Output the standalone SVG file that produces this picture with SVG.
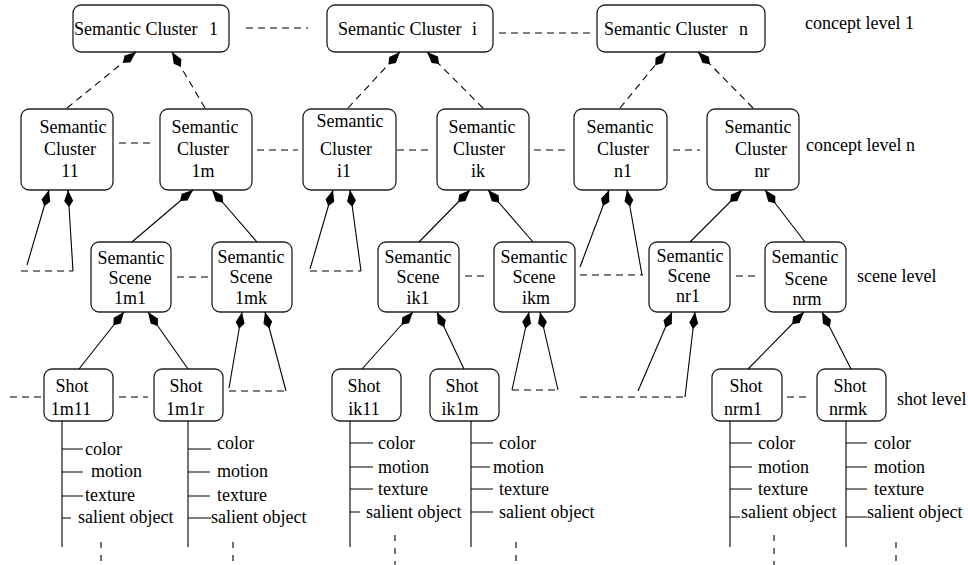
<svg xmlns="http://www.w3.org/2000/svg" width="968" height="565" viewBox="0 0 968 565">
<style>
  .box { fill: #fff; stroke: #222; stroke-width: 1.3; }
  text { font-family: "Liberation Serif", "Times New Roman", serif; font-size: 18px; fill: #000; }
  .c { text-anchor: middle; }
  .ln { stroke: #000; stroke-width: 1.1; fill: none; }
  .dash { stroke: #000; stroke-width: 1.1; fill: none; stroke-dasharray: 7 5; }
  .vd { stroke: #000; stroke-width: 1.1; fill: none; stroke-dasharray: 6 7; }
</style>
<defs>
  <marker id="ah" viewBox="-18 -5 19 10" refX="0" refY="0" markerWidth="19" markerHeight="10" markerUnits="userSpaceOnUse" orient="auto">
    <path d="M0,0 L-11,-4.5 L-17,0 L-11,4.5 Z" fill="#000" stroke="none"/>
  </marker>
</defs>
<rect width="968" height="565" fill="#fff"/>

<!-- concept level 1 -->
<g id="sc1"><rect class="box" x="73" y="5" width="156" height="47" rx="8"/><text x="74" y="35">Semantic Cluster <tspan dx="7">1</tspan></text></g>
<g id="sci"><rect class="box" x="327" y="5" width="166" height="47" rx="8"/><text x="338" y="35">Semantic Cluster <tspan dx="6">i</tspan></text></g>
<g id="scn"><rect class="box" x="597" y="5" width="168" height="47" rx="8"/><text x="604" y="35">Semantic Cluster <tspan dx="7">n</tspan></text></g>

<!-- concept level n -->
<g id="sc11"><rect class="box" x="21" y="109" width="92" height="81" rx="8"/><text class="c"><tspan x="73" y="133">Semantic</tspan><tspan x="70" y="155">Cluster</tspan><tspan x="70" y="177">11</tspan></text></g>
<g id="sc1m"><rect class="box" x="160" y="109" width="92" height="81" rx="8"/><text class="c"><tspan x="205" y="133">Semantic</tspan><tspan x="203" y="155">Cluster</tspan><tspan x="203" y="177">1m</tspan></text></g>
<g id="sci1"><rect class="box" x="303" y="109" width="93" height="81" rx="8"/><text class="c"><tspan x="350" y="127">Semantic</tspan><tspan x="346" y="155">Cluster</tspan><tspan x="344" y="177">i1</tspan></text></g>
<g id="scik"><rect class="box" x="437" y="109" width="92" height="81" rx="8"/><text class="c"><tspan x="482" y="133">Semantic</tspan><tspan x="479" y="155">Cluster</tspan><tspan x="478" y="177">ik</tspan></text></g>
<g id="scn1"><rect class="box" x="574" y="109" width="93" height="81" rx="8"/><text class="c"><tspan x="620" y="133">Semantic</tspan><tspan x="623" y="155">Cluster</tspan><tspan x="623" y="177">n1</tspan></text></g>
<g id="scnr"><rect class="box" x="707" y="109" width="92" height="81" rx="8"/><text class="c"><tspan x="758" y="133">Semantic</tspan><tspan x="761" y="155">Cluster</tspan><tspan x="762" y="177">nr</tspan></text></g>

<!-- scene level -->
<g id="ss1m1"><rect class="box" x="91" y="242" width="80" height="70" rx="8"/><text class="c"><tspan x="131" y="264">Semantic</tspan><tspan x="130" y="284">Scene</tspan><tspan x="130" y="304">1m1</tspan></text></g>
<g id="ss1mk"><rect class="box" x="212" y="242" width="80" height="70" rx="8"/><text class="c"><tspan x="251" y="263">Semantic</tspan><tspan x="251" y="283">Scene</tspan><tspan x="251" y="304">1mk</tspan></text></g>
<g id="ssik1"><rect class="box" x="378" y="242" width="81" height="70" rx="8"/><text class="c"><tspan x="418" y="263">Semantic</tspan><tspan x="418" y="283">Scene</tspan><tspan x="418" y="304">ik1</tspan></text></g>
<g id="ssikm"><rect class="box" x="494" y="242" width="81" height="70" rx="8"/><text class="c"><tspan x="534" y="263">Semantic</tspan><tspan x="534" y="283">Scene</tspan><tspan x="536" y="304">ikm</tspan></text></g>
<g id="ssnr1"><rect class="box" x="649" y="242" width="81" height="70" rx="8"/><text class="c"><tspan x="690" y="262">Semantic</tspan><tspan x="689" y="282">Scene</tspan><tspan x="688" y="302">nr1</tspan></text></g>
<g id="ssnrm"><rect class="box" x="765" y="242" width="81" height="70" rx="8"/><text class="c"><tspan x="805" y="263">Semantic</tspan><tspan x="806" y="285">Scene</tspan><tspan x="807" y="305">nrm</tspan></text></g>

<!-- shot level -->
<g id="shot1m11"><rect class="box" x="44" y="369" width="69" height="52" rx="8"/><text class="c"><tspan x="72" y="392">Shot</tspan><tspan x="71" y="415">1m11</tspan></text></g>
<g id="shot1m1r"><rect class="box" x="154" y="369" width="69" height="52" rx="8"/><text class="c"><tspan x="186" y="392">Shot</tspan><tspan x="185" y="415">1m1r</tspan></text></g>
<g id="shotik11"><rect class="box" x="332" y="369" width="69" height="52" rx="8"/><text class="c"><tspan x="364" y="392">Shot</tspan><tspan x="364" y="415">ik11</tspan></text></g>
<g id="shotik1m"><rect class="box" x="430" y="369" width="69" height="52" rx="8"/><text class="c"><tspan x="462" y="392">Shot</tspan><tspan x="460" y="415">ik1m</tspan></text></g>
<g id="shotnrm1"><rect class="box" x="712" y="369" width="70" height="52" rx="8"/><text class="c"><tspan x="746" y="392">Shot</tspan><tspan x="743" y="415">nrm1</tspan></text></g>
<g id="shotnrmk"><rect class="box" x="817" y="369" width="69" height="52" rx="8"/><text class="c"><tspan x="850" y="392">Shot</tspan><tspan x="848" y="415">nrmk</tspan></text></g>

<!-- level labels -->
<g id="labels">
  <text x="805" y="29">concept level 1</text>
  <text x="806" y="151">concept level n</text>
  <text x="857" y="282">scene level</text>
  <text x="897" y="405">shot level</text>
</g>

<!-- shot features -->
<g id="features-1m11">
  <path class="ln" d="M62,421 V547 M62,449 H83 M62,472 H83 M62,496 H83 M62,518 H71"/>
  <path class="vd" d="M101,542 V565"/>
  <text x="85" y="455">color</text><text x="91" y="477">motion</text><text x="85" y="501">texture</text><text x="78" y="523">salient object</text>
</g>
<g id="features-1m1r">
  <path class="ln" d="M188,421 V547 M188,449 H211 M188,472 H210 M188,496 H210 M188,518 H211"/>
  <path class="vd" d="M233,542 V565"/>
  <text x="217" y="449">color</text><text x="217" y="477">motion</text><text x="217" y="501">texture</text><text x="211" y="523">salient object</text>
</g>
<g id="features-ik11">
  <path class="ln" d="M350,421 V547 M350,443 H373 M350,467 H373 M350,489 H373 M350,512 H360"/>
  <path class="vd" d="M395,535 V565"/>
  <text x="378" y="449">color</text><text x="378" y="473">motion</text><text x="378" y="495">texture</text><text x="366" y="518">salient object</text>
</g>
<g id="features-ik1m">
  <path class="ln" d="M471,421 V547 M471,443 H493 M471,467 H490 M471,489 H493 M471,512 H493"/>
  <path class="vd" d="M516,542 V565"/>
  <text x="499" y="449">color</text><text x="493" y="473">motion</text><text x="499" y="495">texture</text><text x="499" y="518">salient object</text>
</g>
<g id="features-nrm1">
  <path class="ln" d="M730,421 V547 M730,443 H752 M730,467 H752 M730,489 H752 M730,517 H740"/>
  <path class="vd" d="M774,535 V565"/>
  <text x="758" y="449">color</text><text x="758" y="473">motion</text><text x="758" y="495">texture</text><text x="741" y="518">salient object</text>
</g>
<g id="features-nrmk">
  <path class="ln" d="M846,421 V547 M846,443 H867 M846,467 H867 M846,489 H867 M846,517 H867"/>
  <path class="vd" d="M896,542 V565"/>
  <text x="874" y="449">color</text><text x="874" y="473">motion</text><text x="874" y="495">texture</text><text x="867" y="518">salient object</text>
</g>

<!-- connectors -->
<g id="connectors">
  <path class="dash" marker-end="url(#ah)" d="M67,108 L136,52"/>
  <path class="dash" marker-end="url(#ah)" d="M205,108 L172,52"/>
  <path class="dash" marker-end="url(#ah)" d="M348,108 L400,52"/>
  <path class="dash" marker-end="url(#ah)" d="M483,108 L427,52"/>
  <path class="dash" marker-end="url(#ah)" d="M620,108 L666,52"/>
  <path class="dash" marker-end="url(#ah)" d="M753,108 L698,52"/>
  <path class="ln" marker-end="url(#ah)" d="M132,242 L193,190"/>
  <path class="ln" marker-end="url(#ah)" d="M257,242 L212,190"/>
  <path class="ln" marker-end="url(#ah)" d="M419,242 L470,190"/>
  <path class="ln" marker-end="url(#ah)" d="M533,242 L488,190"/>
  <path class="ln" marker-end="url(#ah)" d="M690,242 L742,190"/>
  <path class="ln" marker-end="url(#ah)" d="M805,242 L765,190"/>
  <path class="ln" marker-end="url(#ah)" d="M27,265 L49,190"/>
  <path class="ln" marker-end="url(#ah)" d="M73,271 L68,190"/>
  <path class="dash" d="M21,271 L73,271"/>
  <path class="ln" marker-end="url(#ah)" d="M310,269 L333,190"/>
  <path class="ln" marker-end="url(#ah)" d="M361,271 L350,190"/>
  <path class="dash" d="M310,271 L361,271"/>
  <path class="ln" marker-end="url(#ah)" d="M580,267 L609,190"/>
  <path class="ln" marker-end="url(#ah)" d="M642,275 L627,190"/>
  <path class="dash" d="M580,275 L643,275"/>
  <path class="ln" marker-end="url(#ah)" d="M79,369 L124,312"/>
  <path class="ln" marker-end="url(#ah)" d="M188,369 L148,312"/>
  <path class="ln" marker-end="url(#ah)" d="M362,369 L413,312"/>
  <path class="ln" marker-end="url(#ah)" d="M464,369 L437,312"/>
  <path class="ln" marker-end="url(#ah)" d="M748,369 L804,312"/>
  <path class="ln" marker-end="url(#ah)" d="M851,369 L822,312"/>
  <path class="ln" marker-end="url(#ah)" d="M229,388 L242,312"/>
  <path class="ln" marker-end="url(#ah)" d="M286,391 L265,312"/>
  <path class="dash" d="M229,391 L286,391"/>
  <path class="ln" marker-end="url(#ah)" d="M512,390 L529,312"/>
  <path class="ln" marker-end="url(#ah)" d="M558,390 L540,312"/>
  <path class="dash" d="M512,390 L558,390"/>
  <path class="ln" marker-end="url(#ah)" d="M638,391 L672,312"/>
  <path class="ln" marker-end="url(#ah)" d="M685,397 L695,312"/>
  <path class="dash" d="M580,397 L685,397"/>
  <path class="dash" d="M246,28 L308,28"/>
  <path class="dash" d="M499,33 L592,33"/>
  <path class="dash" d="M119,143 L155,143"/>
  <path class="dash" d="M257,150 L298,150"/>
  <path class="dash" d="M397,150 L433,150"/>
  <path class="dash" d="M534,150 L570,150"/>
  <path class="dash" d="M673,150 L700,150"/>
  <path class="dash" d="M177,277 L209,277"/>
  <path class="dash" d="M465,276 L489,276"/>
  <path class="dash" d="M736,276 L760,276"/>
  <path class="dash" d="M10,397 L43,397"/>
  <path class="dash" d="M119,397 L148,397"/>
  <path class="dash" d="M787,397 L810,397"/>
</g>
</svg>
